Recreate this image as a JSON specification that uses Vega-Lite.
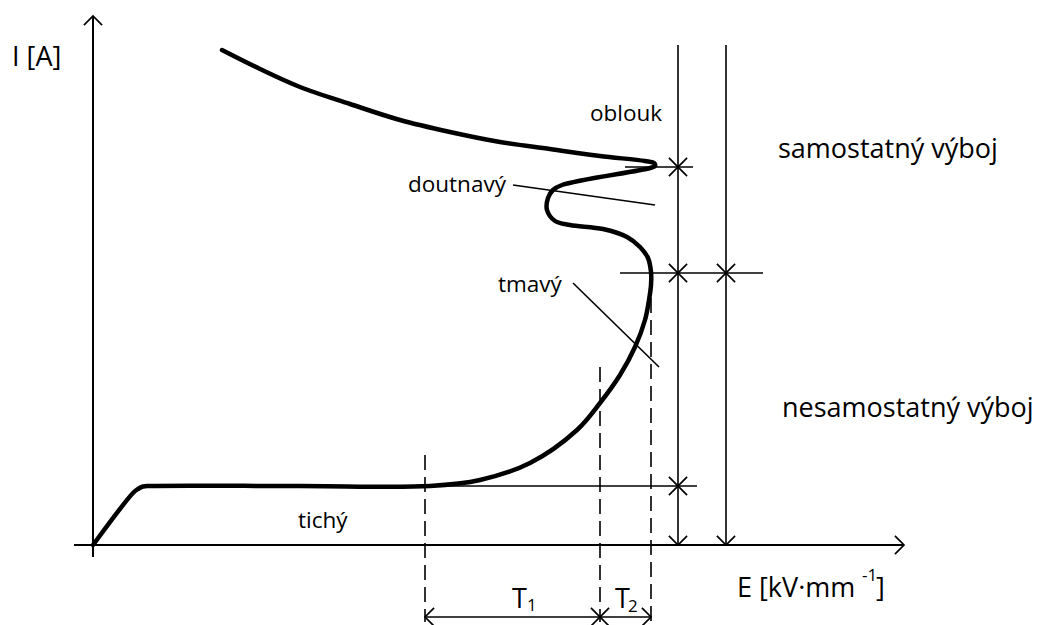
{
  "$schema": "https://vega.github.io/schema/vega-lite/v6.json",
  "width": 1046,
  "height": 625,
  "padding": 0,
  "autosize": {"type": "none"},
  "background": "white",
  "config": {"view": {"stroke": null}},
  "datasets": {
    "axes": [
      {"x1": 0, "y1": 52.9, "x2": 0, "y2": -1.2},
      {"x1": -1.9, "y1": 0, "x2": 81.1, "y2": 0}
    ],
    "thin": [
      {"x1": 58.5, "y1": 50, "x2": 58.5, "y2": 0},
      {"x1": 63.3, "y1": 50, "x2": 63.3, "y2": 0},
      {"x1": 53.2, "y1": 37.8, "x2": 60.0, "y2": 37.8},
      {"x1": 52.7, "y1": 27.2, "x2": 67.0, "y2": 27.2},
      {"x1": 33.7, "y1": 5.9, "x2": 60.4, "y2": 5.9},
      {"x1": 33.2, "y1": -7.2, "x2": 55.8, "y2": -7.2},
      {"x1": 42.0, "y1": 36.0, "x2": 56.2, "y2": 34.0},
      {"x1": 48.0, "y1": 26.2, "x2": 56.6, "y2": 17.8}
    ],
    "dashed": [
      {"x1": 33.2, "y1": 9.0, "x2": 33.2, "y2": -7.7},
      {"x1": 50.7, "y1": 17.8, "x2": 50.7, "y2": -7.7},
      {"x1": 55.8, "y1": 24.7, "x2": 55.8, "y2": -7.7}
    ],
    "curve": [
      {"i": 1, "E": 0, "I": 0},
      {"i": 2, "E": 4.0, "I": 5.2},
      {"i": 3, "E": 4.5, "I": 5.6},
      {"i": 4, "E": 5.0, "I": 5.85},
      {"i": 5, "E": 5.7, "I": 5.9},
      {"i": 6, "E": 20.7, "I": 5.9},
      {"i": 7, "E": 33.7, "I": 5.9},
      {"i": 8, "E": 38.7, "I": 6.5},
      {"i": 9, "E": 43.7, "I": 8.2},
      {"i": 10, "E": 48.4, "I": 11.5},
      {"i": 11, "E": 50.7, "I": 14.2},
      {"i": 12, "E": 52.7, "I": 17.0},
      {"i": 13, "E": 54.2, "I": 19.8},
      {"i": 14, "E": 55.2, "I": 22.5},
      {"i": 15, "E": 55.6, "I": 24.5},
      {"i": 16, "E": 55.8, "I": 26.0},
      {"i": 17, "E": 55.8, "I": 27.3},
      {"i": 18, "E": 55.5, "I": 28.7},
      {"i": 19, "E": 54.7, "I": 29.8},
      {"i": 20, "E": 53.4, "I": 30.8},
      {"i": 21, "E": 51.0, "I": 31.6},
      {"i": 22, "E": 47.7, "I": 32.0},
      {"i": 23, "E": 46.2, "I": 32.4},
      {"i": 24, "E": 45.4, "I": 33.5},
      {"i": 25, "E": 45.5, "I": 34.7},
      {"i": 26, "E": 46.0, "I": 35.5},
      {"i": 27, "E": 46.9, "I": 36.0},
      {"i": 28, "E": 55.7, "I": 37.7},
      {"i": 29, "E": 56.2, "I": 37.9},
      {"i": 30, "E": 56.1, "I": 38.2},
      {"i": 31, "E": 55.2, "I": 38.4},
      {"i": 32, "E": 50.7, "I": 38.9},
      {"i": 33, "E": 45.7, "I": 39.6},
      {"i": 34, "E": 40.7, "I": 40.3},
      {"i": 35, "E": 35.7, "I": 41.3},
      {"i": 36, "E": 30.7, "I": 42.5},
      {"i": 37, "E": 25.7, "I": 44.1},
      {"i": 38, "E": 20.7, "I": 45.8},
      {"i": 39, "E": 16.7, "I": 47.6},
      {"i": 40, "E": 12.9, "I": 49.5}
    ],
    "markers": [
      {"x": 0, "y": 52.9, "shape": "M-1,1L0,0L1,1"},
      {"x": 81.1, "y": 0, "shape": "M-1,-1L0,0L-1,1"},
      {"x": 58.5, "y": 0, "shape": "M-1,-1L0,0L1,-1"},
      {"x": 63.3, "y": 0, "shape": "M-1,-1L0,0L1,-1"},
      {"x": 33.2, "y": -7.2, "shape": "M1,-1L0,0L1,1"},
      {"x": 55.8, "y": -7.2, "shape": "M-1,-1L0,0L-1,1"},
      {"x": 58.5, "y": 37.8, "shape": "M-1,-1L1,1M-1,1L1,-1"},
      {"x": 58.5, "y": 27.2, "shape": "M-1,-1L1,1M-1,1L1,-1"},
      {"x": 63.3, "y": 27.2, "shape": "M-1,-1L1,1M-1,1L1,-1"},
      {"x": 58.5, "y": 5.9, "shape": "M-1,-1L1,1M-1,1L1,-1"},
      {"x": 50.7, "y": -7.2, "shape": "M-1,-1L1,1M-1,1L1,-1"}
    ],
    "bigText": [
      {"x": -8.1, "y": 47.9, "t": "I [A]"},
      {"x": 68.5, "y": 38.7, "t": "samostatný výboj"},
      {"x": 68.9, "y": 12.8, "t": "nesamostatný výboj"},
      {"x": 64.4, "y": -5.2, "t": "E [kV·mm"},
      {"x": 78.3, "y": -5.2, "t": "]"},
      {"x": 41.9, "y": -6.3, "t": "T"},
      {"x": 52.2, "y": -6.3, "t": "T"}
    ],
    "smallText": [
      {"x": 49.7, "y": 42.4, "t": "oblouk"},
      {"x": 31.5, "y": 35.3, "t": "doutnavý"},
      {"x": 40.5, "y": 25.3, "t": "tmavý"},
      {"x": 20.5, "y": 1.7, "t": "tichý"}
    ],
    "subText": [
      {"x": 43.4, "y": -6.6, "t": "1"},
      {"x": 53.5, "y": -6.7, "t": "2"},
      {"x": 76.9, "y": -3.6, "t": "-1"}
    ]
  },
  "layer": [
    {
      "data": {"name": "axes"},
      "mark": {"type": "rule", "color": "black", "strokeWidth": 2},
      "encoding": {
        "x": {"field": "x1", "type": "quantitative", "axis": null, "scale": {"domain": [-9.3, 95.3], "nice": false, "zero": false}},
        "y": {"field": "y1", "type": "quantitative", "axis": null, "scale": {"domain": [-8, 54.5], "nice": false, "zero": false}},
        "x2": {"field": "x2"},
        "y2": {"field": "y2"}
      }
    },
    {
      "data": {"name": "thin"},
      "mark": {"type": "rule", "color": "black", "strokeWidth": 1.6},
      "encoding": {
        "x": {"field": "x1", "type": "quantitative", "axis": null},
        "y": {"field": "y1", "type": "quantitative", "axis": null},
        "x2": {"field": "x2"},
        "y2": {"field": "y2"}
      }
    },
    {
      "data": {"name": "dashed"},
      "mark": {"type": "rule", "color": "black", "strokeWidth": 1.6, "strokeDash": [15, 7]},
      "encoding": {
        "x": {"field": "x1", "type": "quantitative", "axis": null},
        "y": {"field": "y1", "type": "quantitative", "axis": null},
        "x2": {"field": "x2"},
        "y2": {"field": "y2"}
      }
    },
    {
      "data": {"name": "curve"},
      "mark": {"type": "line", "color": "black", "strokeWidth": 4.5, "interpolate": "catmull-rom", "strokeCap": "round", "strokeJoin": "round"},
      "encoding": {
        "x": {"field": "E", "type": "quantitative", "axis": null},
        "y": {"field": "I", "type": "quantitative", "axis": null},
        "order": {"field": "i", "type": "quantitative"}
      }
    },
    {
      "data": {"name": "markers"},
      "mark": {"type": "point", "filled": false, "color": "black", "strokeWidth": 1.7, "size": 330, "opacity": 1},
      "encoding": {
        "x": {"field": "x", "type": "quantitative", "axis": null},
        "y": {"field": "y", "type": "quantitative", "axis": null},
        "shape": {"field": "shape", "type": "nominal", "scale": null}
      }
    },
    {
      "data": {"name": "bigText"},
      "mark": {"type": "text", "font": "Open Sans", "fontSize": 27, "align": "left", "baseline": "alphabetic", "color": "black"},
      "encoding": {
        "x": {"field": "x", "type": "quantitative", "axis": null},
        "y": {"field": "y", "type": "quantitative", "axis": null},
        "text": {"field": "t"}
      }
    },
    {
      "data": {"name": "smallText"},
      "mark": {"type": "text", "font": "Open Sans", "fontSize": 22.5, "align": "left", "baseline": "alphabetic", "color": "black"},
      "encoding": {
        "x": {"field": "x", "type": "quantitative", "axis": null},
        "y": {"field": "y", "type": "quantitative", "axis": null},
        "text": {"field": "t"}
      }
    },
    {
      "data": {"name": "subText"},
      "mark": {"type": "text", "font": "Open Sans", "fontSize": 17, "align": "left", "baseline": "alphabetic", "color": "black"},
      "encoding": {
        "x": {"field": "x", "type": "quantitative", "axis": null},
        "y": {"field": "y", "type": "quantitative", "axis": null},
        "text": {"field": "t"}
      }
    }
  ]
}
